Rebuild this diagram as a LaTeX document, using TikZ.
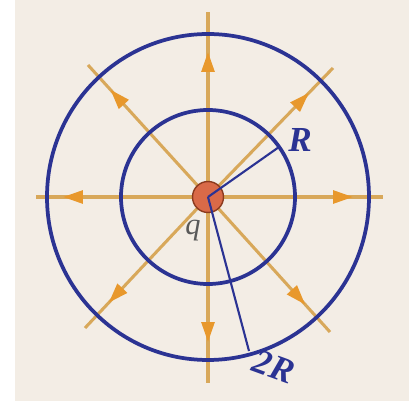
\documentclass[tikz,border=0pt]{standalone}
\usepackage{fontspec}
\setmainfont{Liberation Serif}
\usepackage{xcolor}
\usetikzlibrary{arrows.meta, decorations.markings}

\definecolor{paper}{HTML}{F3EDE5}
\definecolor{ringblue}{HTML}{2B3393}
\definecolor{linetan}{HTML}{D8A85A}
\definecolor{tiporange}{HTML}{E8982C}
\definecolor{ballred}{HTML}{D96A48}
\definecolor{ballrim}{HTML}{8B3A1E}

\begin{document}
\begin{tikzpicture}[
  x=0.03cm, y=-0.03cm,
  fieldline/.style={line width=2.6pt, draw=linetan,
    postaction={decorate},
    decoration={markings, mark=at position 4.35cm with
      {\arrow{Triangle[length=17pt, width=11pt, color=tiporange]}}}},
  ring/.style={draw=ringblue, line width=3.2pt},
  radline/.style={draw=ringblue, line width=1.8pt},
  charge/.style={circle, fill=ballred, draw=ballrim, line width=1.2pt,
                 minimum size=31*0.03cm, inner sep=0pt},
  lbl/.style={text=ringblue, font=\fontsize{30}{30}\selectfont\bfseries\itshape}
]
  % page and margin
  \useasboundingbox (0,0) rectangle (409,401);
  \fill[white] (0,0) rectangle (409,401);
  \fill[paper] (15,0) rectangle (409,401);

  % centre and field line ends
  \coordinate (c) at (208,197);
  \coordinate (up)    at (208,12);
  \coordinate (down)  at (208,383);
  \coordinate (left)  at (36,197);
  \coordinate (right) at (383,197);
  \coordinate (nw)    at (88,65);
  \coordinate (ne)    at (333,68);
  \coordinate (sw)    at (85,328);
  \coordinate (se)    at (330,332);

  \foreach \e in {up,down,left,right,nw,ne,sw,se}
    \draw[fieldline] (c) -- (\e);

  % spheres of radius R and 2R
  \draw[ring] (c) circle[radius=87];
  \draw[ring] (c) ellipse[x radius=161, y radius=163];

  % point charge
  \node[charge] (q) at (c) {};
  \node[font=\fontsize{26}{26}\selectfont\itshape, text=black!65] (qlbl)
        at (193,231) {q};

  % radii
  \coordinate (rin)  at (279,147);
  \coordinate (rout) at (249,351);
  \draw[radline] (q.center) -- (rin);
  \draw[radline] (q.center) -- (rout);
  \node[lbl] (rlbl) at (300,140) {R};
  \node[lbl, rotate=-20] (rrlbl) at (274,367) {2R};
\end{tikzpicture}
\end{document}
